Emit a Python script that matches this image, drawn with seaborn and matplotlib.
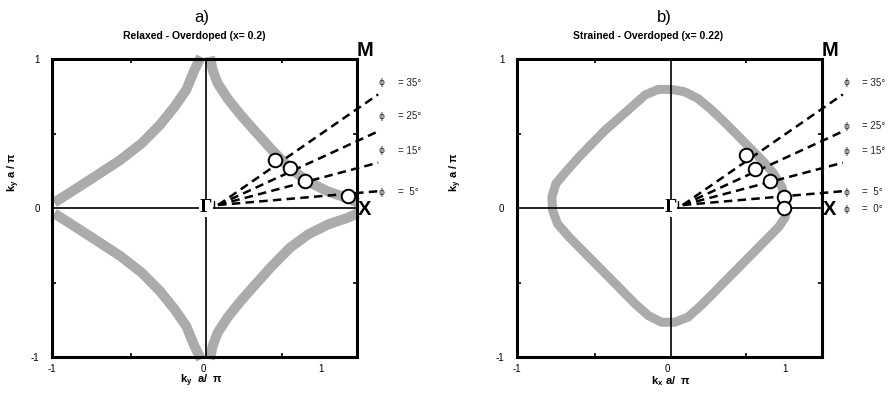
import numpy as np
import matplotlib
matplotlib.use("Agg")
import matplotlib.pyplot as plt
import seaborn as sns

# ---------------- data ----------------
# Panel a) relaxed, Fermi-surface arcs (upper half; lower half mirrored)
relaxed_left_kx = [-0.033, -0.077, -0.131, -0.208, -0.306, -0.426, -0.568, -0.721, -0.874, -1.005]
relaxed_left_ky = [1.015, 0.926, 0.792, 0.680, 0.557, 0.434, 0.322, 0.221, 0.121, 0.036]
relaxed_right_kx = [0.026, 0.044, 0.077, 0.142, 0.230, 0.328, 0.437, 0.557, 0.677, 0.809, 0.940, 1.005]
relaxed_right_ky = [1.015, 0.926, 0.837, 0.736, 0.624, 0.512, 0.389, 0.266, 0.177, 0.110, 0.065, 0.035]

# Panel b) strained, closed Fermi surface
strained_kx = [0.765, 0.737, 0.682, 0.616, 0.529, 0.442, 0.354, 0.267, 0.180, 0.092,
               0.005, -0.083, -0.170, -0.258, -0.345, -0.433, -0.520, -0.607, -0.695, -0.760,
               -0.787, -0.782, -0.750, -0.673, -0.586, -0.498, -0.410, -0.323, -0.236, -0.148,
               -0.061, 0.026, 0.114, 0.201, 0.289, 0.376, 0.464, 0.551, 0.639, 0.715,
               0.759, 0.765]
strained_ky = [0.007, 0.141, 0.231, 0.309, 0.399, 0.489, 0.578, 0.662, 0.735, 0.780,
               0.796, 0.796, 0.758, 0.679, 0.601, 0.523, 0.433, 0.343, 0.242, 0.164,
               0.074, -0.016, -0.105, -0.195, -0.284, -0.374, -0.464, -0.553, -0.643, -0.722,
               -0.767, -0.767, -0.733, -0.654, -0.565, -0.475, -0.385, -0.296, -0.206, -0.128,
               -0.061, 0.007]

# Cut angles (degrees) and measured points
phi_a = [35, 25, 15, 5]
pts_a_kx = [0.459, 0.557, 0.656, 0.940]
pts_a_ky = [0.322, 0.266, 0.181, 0.083]

phi_b = [35, 25, 15, 5]
phi_b_labels = [35, 25, 15, 5, 0]
pts_b_kx = [0.496, 0.557, 0.656, 0.752, 0.752]
pts_b_ky = [0.354, 0.260, 0.180, 0.074, 0.000]

xtick_labels = ["-1", "0", "1"]
ytick_labels = ["-1", "0", "1"]

# ---------------- style ----------------
sns.set_theme(style="white")
plt.rcParams['font.family'] = ['Liberation Sans', 'DejaVu Sans']
plt.rcParams['mathtext.fontset'] = 'custom'
plt.rcParams['mathtext.rm'] = 'Liberation Sans'
plt.rcParams['mathtext.bf'] = 'Liberation Sans:bold'
plt.rcParams['text.color'] = 'black'
plt.rcParams['axes.labelcolor'] = 'black'
plt.rcParams['xtick.color'] = 'black'
plt.rcParams['ytick.color'] = 'black'

FS_COLOR = '#ababab'

fig = plt.figure(figsize=(8.88, 3.93), dpi=100)
axA = fig.add_axes([52/888, 1-357/393, 305/888, 298/393])
axB = fig.add_axes([516.7/888, 1-357/393, 305/888, 298/393])

origin = (0.08, 0.02)


def setup(ax, ylabel_x):
    ax.set_xlim(-1, 1)
    ax.set_ylim(-1, 1)
    for s in ax.spines.values():
        s.set_linewidth(2.2)
        s.set_color('black')
        s.set_zorder(4)
    ax.set_xticks([-1.02, -0.02, 0.76], xtick_labels)
    ax.set_yticks([-1, 0, 1], ytick_labels)
    ax.set_xticks([-0.5, 0.5], minor=True)
    ax.set_yticks([-0.5, 0.5], minor=True)
    ax.tick_params(which='major', length=0, labelsize=7, pad=5, colors='black')
    ax.tick_params(axis='y', which='major', pad=9)
    ax.tick_params(which='minor', direction='in', length=3, width=1.2,
                   top=True, right=True, bottom=True, left=True, color='black')
    ax.axvline(0, color='black', lw=1.2, zorder=3)
    ax.axhline(0, color='black', lw=1.2, zorder=3)
    ax.plot([0.05, 0.05], [0, 0.045], color='black', lw=1.0, zorder=3)
    ax.text(0.0, 0.0, "Γ", family=['Liberation Serif', 'DejaVu Serif'], fontweight='bold',
            fontsize=14, ha='center', va='center', zorder=6, color='black',
            bbox=dict(facecolor='white', edgecolor='none', pad=0.3))
    ax.text(0.998, 0.995, "M", fontweight='bold', fontsize=14.5, ha='left', va='bottom',
            clip_on=False, color='black')
    ax.text(1.005, -0.01, "X", fontweight='bold', fontsize=14.5, ha='left', va='center',
            clip_on=False, color='black')
    ax.text(ylabel_x, 0.62, "k$_\\mathbf{y}$ a / π", transform=ax.transAxes, rotation=90,
            fontweight='bold', fontsize=8, ha='center', va='center', color='black')


def dashed_cuts(ax, angles, label_y, label_vals, x_end=1.14):
    for a in angles:
        t = np.deg2rad(a)
        xs = [origin[0], x_end]
        ys = [origin[1], origin[1] + (x_end - origin[0]) * np.tan(t)]
        ax.plot(xs, ys, color='black', lw=1.8, dashes=(3.4, 2.1), clip_on=False, zorder=4)
    for v, yl in zip(label_vals, label_y):
        ax.text(1.165, yl, "ϕ", family=['DejaVu Sans'], fontsize=6.5, ha='center',
                va='center', clip_on=False, color='#222222')
        lab = f"=  {v}°" if v < 10 else f"= {v}°"
        ax.text(1.27, yl, lab, fontsize=7, ha='left', va='center', clip_on=False,
                color='#222222')


# ---------- Panel a ----------
setup(axA, -0.125)
for kx, ky in ((relaxed_left_kx, relaxed_left_ky), (relaxed_right_kx, relaxed_right_ky)):
    for sgn in (1, -1):
        sns.lineplot(x=kx, y=[sgn * v for v in ky], ax=axA, sort=False, estimator=None,
                     color=FS_COLOR, lw=7.2, solid_capstyle='butt', solid_joinstyle='round',
                     zorder=2, clip_on=False)
dashed_cuts(axA, phi_a, [0.84, 0.617, 0.383, 0.107], phi_a)
sns.scatterplot(x=pts_a_kx, y=pts_a_ky, ax=axA, s=95, color='white', edgecolor='black',
                linewidth=1.4, zorder=7)
axA.text(0.49, 1.138, "a)", transform=axA.transAxes, fontsize=12, ha='center', va='center')
axA.text(0.466, 1.077, "Relaxed - Overdoped (x= 0.2)", transform=axA.transAxes,
         fontsize=7.5, fontweight='bold', ha='center', va='center')
axA.text(0.489, -0.08, "k$_\\mathbf{y}$  a/  π", transform=axA.transAxes, fontsize=8,
         fontweight='bold', ha='center', va='center')

# ---------- Panel b ----------
setup(axB, -0.2)
sns.lineplot(x=strained_kx, y=strained_ky, ax=axB, sort=False, estimator=None,
             color=FS_COLOR, lw=6.5, solid_capstyle='butt', solid_joinstyle='round', zorder=2)
dashed_cuts(axB, phi_b, [0.84, 0.55, 0.38, 0.106, -0.01], phi_b_labels)
sns.scatterplot(x=pts_b_kx, y=pts_b_ky, ax=axB, s=95, color='white', edgecolor='black',
                linewidth=1.4, zorder=7)
axB.text(0.483, 1.138, "b)", transform=axB.transAxes, fontsize=12, ha='center', va='center')
axB.text(0.431, 1.077, "Strained - Overdoped (x= 0.22)", transform=axB.transAxes,
         fontsize=7.5, fontweight='bold', ha='center', va='center')
axB.text(0.506, -0.08, "k$_\\mathbf{x}$ a/  π", transform=axB.transAxes, fontsize=8,
         fontweight='bold', ha='center', va='center')

for ax in (axA, axB):
    leg = ax.get_legend()
    if leg:
        leg.remove()

fig.savefig("out.png", dpi=100)
